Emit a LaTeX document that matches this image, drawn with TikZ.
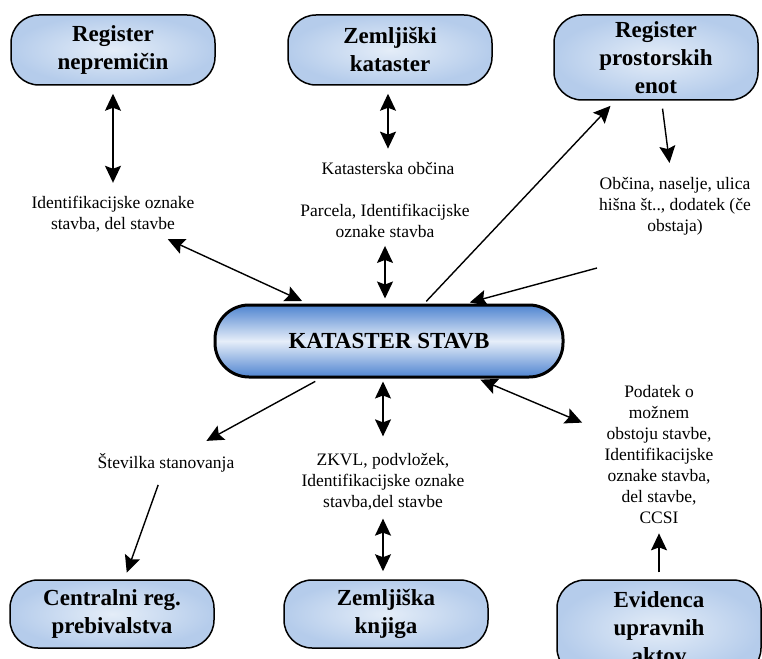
\documentclass[tikz,border=0pt]{standalone}
\usepackage{fontspec}
\setmainfont{Liberation Serif}
\usetikzlibrary{calc,arrows.meta}
\definecolor{boxlight}{HTML}{E4EDF8}
\definecolor{boxedge}{HTML}{B5CCEB}
\definecolor{kdark}{HTML}{4F84D0}
\definecolor{klight}{HTML}{E6EEF9}
\tikzset{
	regbox/.style={draw, line width=1.5pt, rounded corners=28pt, minimum width=204pt, minimum height=70pt, align=center, inner color=boxlight, outer color=boxedge, font=\bfseries\fontsize{23}{28}\selectfont},
	mainbox/.style={draw, line width=3pt, rounded corners=34pt, minimum width=348pt, minimum height=72pt, top color=kdark, bottom color=kdark, middle color=klight, font=\bfseries\fontsize{23}{28}\selectfont},
	lab/.style={align=center, inner sep=2pt, font=\fontsize{17.5}{21}\selectfont},
	one/.style={-{Stealth[length=17pt,width=16pt,inset=3pt]}, line width=1.4pt},
	two/.style={{Stealth[length=17pt,width=16pt,inset=3pt]}-{Stealth[length=17pt,width=16pt,inset=3pt]}, line width=1.4pt}
}

\begin{document}
\begin{tikzpicture}[x=1pt,y=-1pt]
			%%%%% START %%%%%
			\useasboundingbox (0, 0) rectangle (762, 658);
			\clip (0, 0) rectangle (762, 658);
			
			% registers
			\node[regbox] (rn) at (113, 50) {Register\\nepremičin};
			\node[regbox] (zk) at (390, 50) {Zemljiški\\kataster};
			\node[regbox, minimum height=85pt] (rpe) at (656, 57.5) {Register\\prostorskih\\enot};
			\node[mainbox] (ks) at (389, 341) {KATASTER STAVB};
			\node[regbox, minimum height=68pt] (crp) at (112, 614) {Centralni reg.\\prebivalstva};
			\node[regbox, minimum height=68pt] (zkn) at (386, 614) {Zemljiška\\knjiga};
			\node[regbox, minimum height=96pt] (ea) at (659, 628) {Evidenca\\upravnih\\aktov};
			
			% data
			\node[lab] (lab1) at (113, 214) {Identifikacijske oznake\\stavba, del stavbe};
			\node[lab] (lab2) at (388, 168) {Katasterska občina};
			\node[lab] (lab3) at (385, 221) {Parcela, Identifikacijske\\oznake stavba};
			\node[lab] (lab4) at (675, 206) {Občina, naselje, ulica\\hišna št.., dodatek (če\\obstaja)};
			\node[lab] (lab5) at (166, 463) {Številka stanovanja};
			\node[lab] (lab6) at (383, 482) {ZKVL, podvložek,\\Identifikacijske oznake\\stavba,del stavbe};
			\node[lab] (lab7) at (659, 455) {Podatek o\\možnem\\obstoju stavbe,\\Identifikacijske\\oznake stavba,\\del stavbe,\\CCSI};
			\coordinate (c4) at (597, 268);
			
			% arrows
			\draw[two, shorten <=8pt, shorten >=11pt] (rn) -- (lab1);
			\draw[two, shorten <=12pt, shorten >=6pt] (lab1) -- (ks);
			\draw[two, shorten <=8pt, shorten >=11pt] (lab2.north |- zk.south) -- (lab2.north);
			\draw[two, shorten <=6pt, shorten >=5pt] (lab3.south) -- (lab3.south |- ks.north);
			\draw[one, shorten <=3pt, shorten >=7pt] (ks) -- (rpe);
			\draw[one, shorten <=8pt, shorten >=12pt] (rpe) -- (lab4);
			\draw[one, shorten >=4pt] (c4) -- (ks.26);
			\draw[one, shorten <=6pt, shorten >=22pt] (ks) -- (lab5);
			\draw[one, shorten <=11pt, shorten >=7pt] (lab5) -- (crp);
			\draw[two, shorten <=3pt, shorten >=15pt] (lab6.north |- ks.south) -- (lab6.north);
			\draw[two, shorten <=6pt, shorten >=8pt] (lab6.south) -- (lab6.south |- zkn.north);
			\draw[two, shorten <=3pt, shorten >=22pt] (ks) -- (lab7);
			\draw[one, shorten <=7pt, shorten >=7pt] (ea) -- (lab7);
			
			%%%%% END %%%%%
\end{tikzpicture}
\end{document}
